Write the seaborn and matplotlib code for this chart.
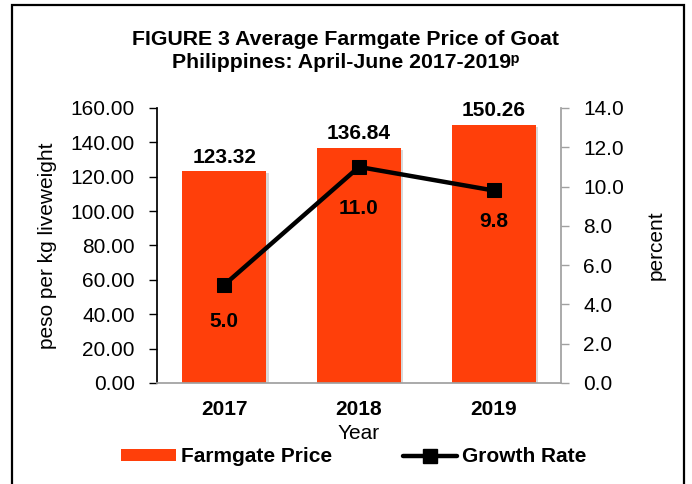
import numpy as np
import pandas as pd
import matplotlib
matplotlib.use("Agg")
import matplotlib.pyplot as plt
import matplotlib.patheffects as pe
from matplotlib.patches import Rectangle, Patch
from matplotlib.lines import Line2D
import seaborn as sns

# ---- data ----
years = ["2017", "2018", "2019"]
farmgate_price = [123.32, 136.84, 150.26]
growth_rate = [5.0, 11.0, 9.8]

sns.set_theme(style="white")
plt.rcParams["font.family"] = ["Liberation Sans", "DejaVu Sans"]
plt.rcParams["text.color"] = "black"
plt.rcParams["axes.labelcolor"] = "black"
plt.rcParams["xtick.color"] = "black"
plt.rcParams["ytick.color"] = "black"

BAR_COLOR = "#FF3F0A"
FS = 15

fig = plt.figure(figsize=(6.92, 4.84), dpi=100)
ax = fig.add_axes([157/692, 1-383/484, (561-157)/692, (383-108)/484])

df = pd.DataFrame({"Year": years, "Price": farmgate_price, "Growth": growth_rate})

sns.barplot(data=df, x="Year", y="Price", color=BAR_COLOR, saturation=1,
            width=0.625, ax=ax, edgecolor="none")
for p in ax.patches:
    p.set_path_effects([pe.SimplePatchShadow(offset=(1.5, -1.5), alpha=0.15, shadow_rgbFace="black"), pe.Normal()])

ax.set_ylim(0, 160)
ax.set_yticks(np.arange(0, 161, 20))
ax.set_yticklabels([f"{v:.2f}" for v in np.arange(0, 161, 20)], fontsize=FS)
ax.set_xlim(-0.5, len(years) - 0.5)
ax.set_xticks(np.arange(len(years) + 1) - 0.5)
ax.set_xticklabels([])
ax.set_xticks(np.arange(len(years)), minor=True)
ax.set_xticklabels(years, minor=True, fontsize=FS, fontweight="bold")
ax.tick_params(axis="x", which="major", direction="inout", length=10, color="#A0A0A0", width=1)
ax.tick_params(axis="x", which="minor", length=0, pad=12)
ax.tick_params(axis="y", direction="out", length=6, color="black", width=1, pad=10, left=True)
ax.set_ylabel("peso per kg liveweight", fontsize=FS, labelpad=10)
ax.set_xlabel("Year", fontsize=FS, labelpad=4)

for s in ["top", "right"]:
    ax.spines[s].set_visible(False)
ax.spines["left"].set_color("black")
ax.spines["bottom"].set_color("#A0A0A0")
ax.grid(False)

# bar value labels
for i, v in enumerate(farmgate_price):
    ax.annotate(f"{v:.2f}", xy=(i, v), xytext=(0, 6), textcoords="offset points",
                ha="center", va="baseline", fontsize=FS, fontweight="bold")

# growth rate line
ax2 = ax.twinx()
xpos = np.arange(len(years))
sns.lineplot(x=xpos, y=growth_rate, color="black", marker="s", markersize=10,
             linewidth=3.2, markeredgecolor="black", ax=ax2, legend=False)
ax2.set_ylim(0, 14)
ax2.set_yticks(np.arange(0, 15, 2))
ax2.set_yticklabels([f"{v:.1f}" for v in np.arange(0, 15, 2)], fontsize=FS)
ax2.tick_params(axis="y", direction="out", length=6, color="#A0A0A0", width=1, pad=10, right=True)
ax2.set_ylabel("percent", fontsize=FS, labelpad=16)
for s in ["top", "left", "bottom"]:
    ax2.spines[s].set_visible(False)
ax2.spines["right"].set_color("#A0A0A0")
ax2.grid(False)

growth_label_offsets = [-30.5, -34, -26.5]
for i, v in enumerate(growth_rate):
    ax2.annotate(f"{v:.1f}", xy=(i, v), xytext=(0, growth_label_offsets[i]),
                 textcoords="offset points", ha="center", va="baseline",
                 fontsize=FS, fontweight="bold")

# title
fig.text(0.5, 1-45/484, "FIGURE 3 Average Farmgate Price of Goat", ha="center",
         va="baseline", fontsize=15.3, fontweight="bold")
fig.text(0.5, 1-68/484, "Philippines: April-June 2017-2019\u1d56", ha="center",
         va="baseline", fontsize=15.3, fontweight="bold")

# legend
handles = [Patch(facecolor=BAR_COLOR, edgecolor="none", label="Farmgate Price"),
           Line2D([], [], color="black", lw=3.2, marker="s", markersize=10, label="Growth Rate")]
fig.legend(handles=handles, loc="center", bbox_to_anchor=(354/692, 1-457/484), ncol=2,
           frameon=False, prop={"size": FS, "weight": "bold"}, handlelength=2.6,
           handletextpad=0.25, columnspacing=3.4, handleheight=0.55)

# outer border
fig.add_artist(Rectangle((12/692, -0.05), (684-12)/692, 1.05-5/484, transform=fig.transFigure,
                         fill=False, edgecolor="black", linewidth=1.6))

fig.savefig("out.png", dpi=100)
